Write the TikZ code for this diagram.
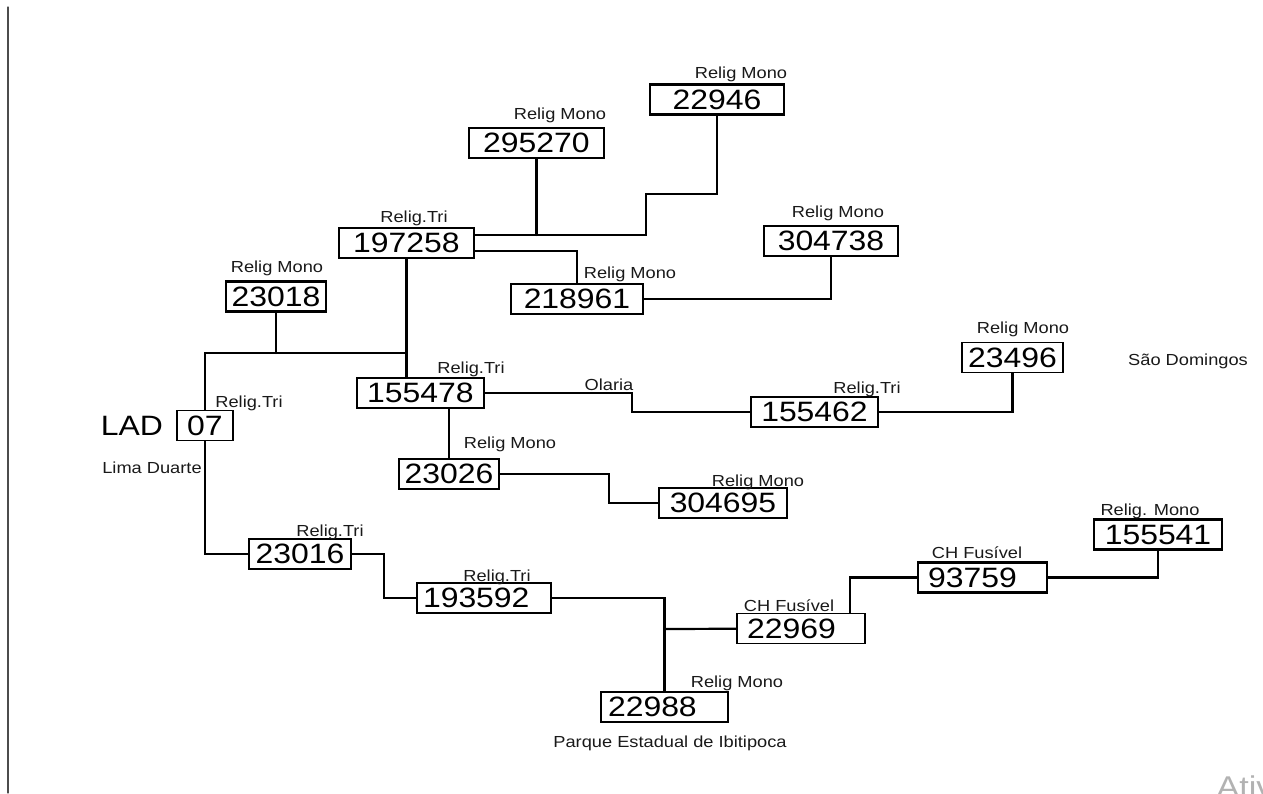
\documentclass[tikz,border=0pt]{standalone}
\usepackage{fontspec}
\setmainfont[FakeStretch=1.14]{Liberation Sans}
\newcommand\numfont{\fontsize{28}{30}\selectfont}
\newcommand\tagfont{\fontsize{16}{18}\selectfont}
\begin{document}
\begin{tikzpicture}[x=1pt,y=-1pt,line cap=round,
  unit/.style={draw,line width=1.8pt,inner sep=0pt,minimum height=30pt,font=\numfont},
  heavy/.style={line width=2.6pt},
  tag/.style={anchor=base,font=\tagfont,text=black!90},
  wire/.style={line width=2.2pt}]
  \useasboundingbox (0,0) rectangle (1263,793);
  \draw[line width=1.2pt,black!70] (8,7) -- (8,793);
  \node[unit,heavy,minimum width=134pt] (r22946) at (717,99.5) {22946};
  \node[unit,heavy,minimum width=135pt] (r295270) at (536.5,143) {295270};
  \node[unit,minimum width=135pt] (r197258) at (406.5,243) {197258};
  \node[unit,heavy,minimum width=132pt] (r218961) at (577,299) {218961};
  \node[unit,minimum width=134pt] (r304738) at (831,241) {304738};
  \node[unit,heavy,minimum width=100pt] (r23018) at (276,296.5) {23018};
  \node[unit,minimum width=127pt] (r155478) at (420.5,393) {155478};
  \node[unit,minimum width=56pt] (r07) at (205,425.5) {07};
  \node[unit,minimum width=100pt] (r23026) at (449,474) {23026};
  \node[unit,heavy,minimum width=128pt] (r304695) at (723,503) {304695};
  \node[unit,heavy,minimum width=127pt] (r155462) at (814.5,412) {155462};
  \node[unit,minimum width=101pt] (r23496) at (1012.5,357.5) {23496};
  \node[unit,heavy,minimum width=128pt] (r155541) at (1158,534.5) {155541};
  \node[unit,heavy,align=left,inner xsep=10pt,text width=109pt] (r93759) at (982.5,577.5) {93759};
  \node[unit,align=left,inner xsep=10pt,text width=108pt] (r22969) at (801,628.5) {22969};
  \node[unit,align=left,inner xsep=7pt,text width=113pt] (r22988) at (664.5,707) {22988};
  \node[unit,heavy,minimum width=102pt] (r23016) at (300,554) {23016};
  \node[unit,heavy,align=left,inner xsep=6pt,text width=122pt] (r193592) at (484,598) {193592};
  \node[anchor=base,font=\numfont] (lad) at (132,435) {LAD};
  \node[tag] (limad) at (152,473) {Lima Duarte};
  \node[tag] (t22946) at (741,78) {Relig Mono};
  \node[tag] (t295270) at (560,119) {Relig Mono};
  \node[tag] (t197258) at (414,222) {Relig.Tri};
  \node[tag] (t218961) at (630,278) {Relig Mono};
  \node[tag] (t304738) at (838,217) {Relig Mono};
  \node[tag] (t23018) at (277,272) {Relig Mono};
  \node[tag] (t155478) at (471,373) {Relig.Tri};
  \node[tag] (t07) at (249,407) {Relig.Tri};
  \node[tag] (t23026) at (510,448) {Relig Mono};
  \node[tag] (olaria) at (609,390) {Olaria};
  \node[tag] (t155462) at (867,393) {Relig.Tri};
  \node[tag] (t23496) at (1023,333) {Relig Mono};
  \node[tag] (saodom) at (1188,365) {São Domingos};
  \node[tag] (t304695) at (758,486) {Relig Mono};
  \node[tag] (t155541) at (1150,515) {Relig. Mono};
  \node[tag] (t93759) at (977,558) {CH Fusível};
  \node[tag] (t22969) at (789,611) {CH Fusível};
  \node[tag] (t22988) at (737,687) {Relig Mono};
  \node[tag] (parque) at (670,747) {Parque Estadual de Ibitipoca};
  \node[tag] (t23016) at (330,536) {Relig.Tri};
  \node[tag] (t193592) at (497,581) {Relig.Tri};
  \node[anchor=base west,font=\fontsize{30}{32}\selectfont,text=black!30] (ativ) at (1213,797) {Ativ};
  \coordinate (jT) at (536.5,235);
  \coordinate (jL) at (406.5,353);
  \coordinate (jB) at (664.5,629);
  \coordinate (kA) at (646,194);
  \coordinate (kS) at (577,251);
  \coordinate (kF) at (850,577.5);
  \draw[wire] (r197258.east |- jT) -| (kA) -| (r22946);
  \draw[wire] (jT) -- (r295270);
  \draw[wire] (r197258.east |- kS) -- (kS) -- (r218961);
  \draw[wire] (r218961) -| (r304738);
  \draw[wire] (r197258) -- (r197258 |- r155478.north);
  \draw[wire] (jL) -| (r07);
  \draw[wire] (r23018) -- (r23018 |- jL);
  \draw[wire] (r07) |- (r23016);
  \draw[wire] (r155478) -- (632,393) |- (r155462);
  \draw[wire] (r155462) -| (r23496);
  \draw[wire] (r23026 |- r155478.south) -- (r23026);
  \draw[wire] (r23026) -- (609,474) |- (r304695);
  \draw[wire] (r23016) -- (384,554) |- (r193592);
  \draw[wire] (r193592) -| (r22988);
  \draw[wire] (jB) -- (r22969);
  \draw[wire] (r22969.north -| kF) -- (kF) -- (r93759);
  \draw[wire] (r93759) -| (r155541);
\end{tikzpicture}
\end{document}
